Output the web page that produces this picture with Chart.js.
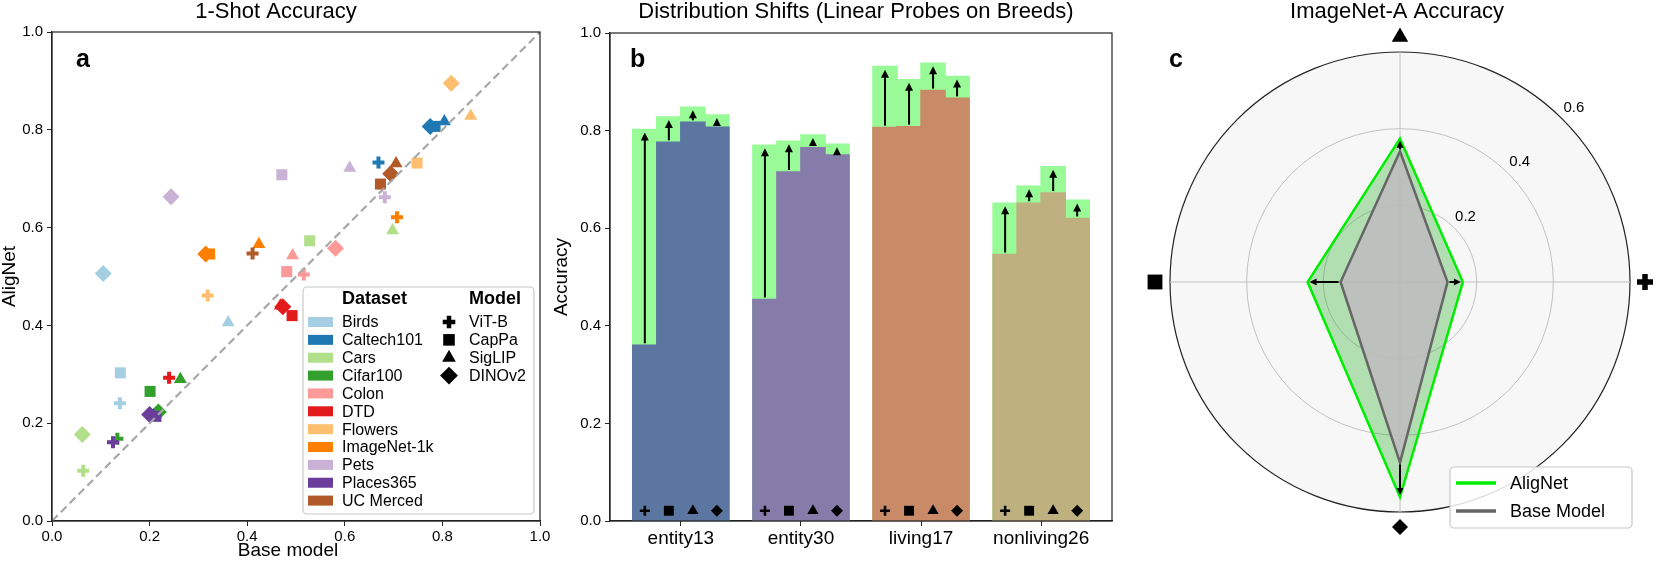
<!DOCTYPE html>
<html lang="en">
<head>
    <meta charset="UTF-8">
    <title>AligNet - Accuracy overview</title>
    <script src="https://cdn.jsdelivr.net/npm/chart.js"></script>
    <style>
        body {
            margin: 0;
            background: #fff;
        }

        .figure {
            position: relative;
            width: 1660px;
            height: 563px;
            overflow: hidden;
        }

        .panel {
            position: absolute;
            top: 0;
            height: 563px;
        }

        #shotPanel { left: 0; width: 560px; }
        #shiftPanel { left: 548px; width: 572px; }
        #radarPanel { left: 1130px; width: 530px; }
    </style>
</head>
<body>
    <div class="figure">
        <div class="panel" id="shotPanel"><canvas id="shotChart"></canvas></div>
        <div class="panel" id="shiftPanel"><canvas id="shiftChart"></canvas></div>
        <div class="panel" id="radarPanel"><canvas id="radarChart"></canvas></div>
    </div>

    <script>
        // ---- data ----
        const modelNames = ['ViT-B', 'CapPa', 'SigLIP', 'DINOv2'];
        const datasetNames = ['Birds', 'Caltech101', 'Cars', 'Cifar100', 'Colon', 'DTD',
            'Flowers', 'ImageNet-1k', 'Pets', 'Places365', 'UC Merced'];

        // 1-shot accuracy, one row per dataset, columns follow modelNames
        const baseShot = [
            [0.139, 0.140, 0.361, 0.105],
            [0.669, 0.785, 0.804, 0.775],
            [0.064, 0.528, 0.698, 0.062],
            [0.134, 0.201, 0.263, 0.218],
            [0.516, 0.481, 0.493, 0.581],
            [0.240, 0.492, 0.468, 0.473],
            [0.319, 0.748, 0.858, 0.818],
            [0.707, 0.323, 0.424, 0.315],
            [0.682, 0.471, 0.610, 0.244],
            [0.125, 0.213, 0.208, 0.200],
            [0.411, 0.673, 0.705, 0.694]
        ];
        const alignShot = [
            [0.241, 0.303, 0.406, 0.506],
            [0.733, 0.807, 0.817, 0.807],
            [0.103, 0.573, 0.594, 0.177],
            [0.168, 0.265, 0.290, 0.223],
            [0.504, 0.510, 0.543, 0.558],
            [0.293, 0.420, 0.440, 0.438],
            [0.461, 0.732, 0.828, 0.895],
            [0.621, 0.546, 0.566, 0.546],
            [0.662, 0.708, 0.722, 0.663],
            [0.161, 0.214, 0.216, 0.218],
            [0.547, 0.689, 0.731, 0.710]
        ];

        // breeds linear probes, one row per model, columns follow shiftNames
        const shiftNames = ['entity13', 'entity30', 'living17', 'nonliving26'];
        const baseShift = [
            [0.360, 0.454, 0.806, 0.546],
            [0.776, 0.715, 0.808, 0.651],
            [0.817, 0.765, 0.882, 0.672],
            [0.807, 0.750, 0.866, 0.620]
        ];
        const alignShift = [
            [0.802, 0.770, 0.931, 0.651],
            [0.828, 0.778, 0.904, 0.686],
            [0.848, 0.791, 0.938, 0.726],
            [0.832, 0.772, 0.911, 0.657]
        ];

        // ImageNet-A, axes clockwise from the top
        const radarAxes = ['SigLIP', 'ViT-B', 'DINOv2', 'CapPa'];
        const radarBase = [0.341, 0.124, 0.471, 0.155];
        const radarAlign = [0.374, 0.164, 0.561, 0.241];
        const radarTicks = [0.2, 0.4, 0.6];

        // ---- styles ----
        const FONT = "'Liberation Sans', Arial, sans-serif";
        Chart.defaults.font.family = FONT;
        Chart.defaults.color = '#000';

        const datasetColors = ['#a6cee3', '#1f78b4', '#b2df8a', '#33a02c', '#fb9a99', '#e31a1c',
            '#fdbf6f', '#ff7f00', '#cab2d6', '#6a3d9a', '#b15928'];
        const shiftColors = ['#5b76a1', '#857ca9', '#c98a68', '#bfb17f'];
        const gainGreen = '#98fb98';
        const markerStyle = { 'ViT-B': 'cross', 'CapPa': 'rect', 'SigLIP': 'triangle', 'DINOv2': 'rectRot' };
        const shotRadius = { 'ViT-B': 6, 'CapPa': 7.8, 'SigLIP': 7.5, 'DINOv2': 8.5 };
        const spineColor = '#222';

        function marker(ctx, style, x, y, radius, color, crossWidth) {
            ctx.save();
            ctx.fillStyle = color;
            ctx.strokeStyle = color;
            ctx.lineWidth = crossWidth;
            Chart.helpers.drawPoint(ctx, {
                pointStyle: style, radius: radius, rotation: 0,
                borderWidth: style === 'cross' ? crossWidth : 0
            }, x, y);
            ctx.restore();
        }

        function arrow(ctx, x0, y0, x1, y1, head, halfWidth) {
            const ang = Math.atan2(y1 - y0, x1 - x0);
            const len = Math.hypot(x1 - x0, y1 - y0);
            ctx.save();
            ctx.translate(x0, y0);
            ctx.rotate(ang);
            ctx.beginPath();
            ctx.moveTo(0, 0);
            ctx.lineTo(Math.max(0, len - head + 1), 0);
            ctx.stroke();
            ctx.beginPath();
            ctx.moveTo(len, 0);
            ctx.lineTo(len - head, -halfWidth);
            ctx.lineTo(len - head, halfWidth);
            ctx.closePath();
            ctx.fill();
            ctx.restore();
        }

        function frameAndTitle(chart, title, titleX, letter, letterX) {
            const { ctx, chartArea: a } = chart;
            ctx.save();
            ctx.strokeStyle = spineColor;
            ctx.lineWidth = 1.2;
            ctx.strokeRect(a.left, a.top, a.right - a.left, a.bottom - a.top);
            ctx.fillStyle = '#000';
            ctx.textAlign = 'center';
            ctx.textBaseline = 'alphabetic';
            ctx.font = '22px ' + FONT;
            ctx.fillText(title, titleX, 18);
            ctx.textAlign = 'left';
            ctx.font = 'bold 25px ' + FONT;
            ctx.fillText(letter, letterX, 67);
            ctx.restore();
        }

        function axisTitles(chart, xText, xCenter, yText, yX) {
            const { ctx, chartArea: a } = chart;
            ctx.save();
            ctx.fillStyle = '#000';
            ctx.font = '19px ' + FONT;
            ctx.textAlign = 'center';
            ctx.textBaseline = 'middle';
            if (xText) ctx.fillText(xText, xCenter, 551);
            if (yText) {
                ctx.translate(yX, (a.top + a.bottom) / 2);
                ctx.rotate(-Math.PI / 2);
                ctx.fillText(yText, 0, 0);
            }
            ctx.restore();
        }

        function numTick(v) { return Number(v).toFixed(1); }

        // ---- a: 1-shot accuracy ----
        const shotDecor = {
            id: 'shotDecor',
            afterDraw(chart) {
                frameAndTitle(chart, '1-Shot Accuracy', 276, 'a', 76);
                axisTitles(chart, 'Base model', 288, 'AligNet', 9.5);
                const { ctx, chartArea: a } = chart;
                const box = { w: 231, h: 227 };
                box.x = a.right - 6 - box.w;
                box.y = a.bottom - 7 - box.h;
                ctx.save();
                ctx.fillStyle = 'rgba(255,255,255,0.85)';
                ctx.strokeStyle = '#c8c8c8';
                ctx.lineWidth = 1.2;
                ctx.beginPath();
                ctx.roundRect(box.x, box.y, box.w, box.h, 4);
                ctx.fill();
                ctx.stroke();

                ctx.fillStyle = '#000';
                ctx.textBaseline = 'middle';
                ctx.font = 'bold 18px ' + FONT;
                ctx.fillText('Dataset', box.x + 39, box.y + 12);
                ctx.fillText('Model', box.x + 166, box.y + 12);

                ctx.font = '16px ' + FONT;
                const rowY = j => box.y + 35 + j * 17.86;
                datasetNames.forEach((name, j) => {
                    ctx.fillStyle = datasetColors[j];
                    ctx.fillRect(box.x + 5, rowY(j) - 5, 25, 10);
                    ctx.fillStyle = '#000';
                    ctx.fillText(name, box.x + 39, rowY(j) + 1);
                });
                modelNames.forEach((m, j) => {
                    marker(ctx, markerStyle[m], box.x + 146, rowY(j), shotRadius[m] * 1.05, '#000', 4.5);
                    ctx.fillStyle = '#000';
                    ctx.fillText(m, box.x + 166, rowY(j) + 1);
                });
                ctx.restore();
            }
        };

        new Chart(document.getElementById('shotChart'), {
            type: 'scatter',
            data: {
                datasets: [
                    {
                        type: 'line',
                        label: 'parity',
                        data: [{ x: 0, y: 0 }, { x: 1, y: 1 }],
                        borderColor: '#a8a8a8',
                        borderWidth: 2.2,
                        borderDash: [8, 4.5],
                        pointRadius: 0,
                        order: -100
                    },
                    ...datasetNames.map((name, d) => ({
                        label: name,
                        data: modelNames.map((m, k) => ({ x: baseShot[d][k], y: alignShot[d][k] })),
                        pointStyle: modelNames.map(m => markerStyle[m]),
                        pointRadius: modelNames.map(m => shotRadius[m]),
                        pointHoverRadius: modelNames.map(m => shotRadius[m]),
                        pointBorderWidth: modelNames.map(m => (m === 'ViT-B' ? 4 : 0)),
                        backgroundColor: datasetColors[d],
                        borderColor: datasetColors[d],
                        order: -d
                    }))
                ]
            },
            options: {
                responsive: true,
                maintainAspectRatio: false,
                animation: false,
                layout: { padding: { left: 0, right: 20, top: 32, bottom: 0 } },
                plugins: { legend: { display: false }, tooltip: { enabled: false } },
                scales: {
                    x: {
                        type: 'linear', min: 0, max: 1,
                        ticks: { stepSize: 0.2, font: { size: 15 }, padding: 2, callback: numTick },
                        grid: { drawOnChartArea: false, tickLength: 5, color: spineColor },
                        border: { color: spineColor, width: 1.2 },
                        afterFit: s => { s.height = 42; }
                    },
                    y: {
                        type: 'linear', min: 0, max: 1,
                        ticks: { stepSize: 0.2, font: { size: 15 }, padding: 4, callback: numTick },
                        grid: { drawOnChartArea: false, tickLength: 5, color: spineColor },
                        border: { color: spineColor, width: 1.2 },
                        afterFit: s => { s.width = 52; }
                    }
                }
            },
            plugins: [shotDecor]
        });

        // ---- b: distribution shifts ----
        const shiftSets = [];
        modelNames.forEach((m, k) => {
            shiftSets.push({
                label: m + ' AligNet',
                data: shiftNames.map((s, i) => ({ x: i, y: alignShift[k][i] })),
                backgroundColor: gainGreen,
                stack: m,
                order: 1
            });
            shiftSets.push({
                label: m,
                data: shiftNames.map((s, i) => ({ x: i, y: baseShift[k][i] })),
                backgroundColor: shiftColors,
                stack: m,
                order: 0
            });
        });

        const shiftDecor = {
            id: 'shiftDecor',
            afterDatasetsDraw(chart) {
                const { ctx } = chart;
                const yS = chart.scales.y;
                ctx.save();
                ctx.strokeStyle = '#000';
                ctx.fillStyle = '#000';
                ctx.lineWidth = 2;
                modelNames.forEach((m, k) => {
                    const bars = chart.getDatasetMeta(2 * k + 1).data;
                    shiftNames.forEach((s, i) => {
                        const x = bars[i].x;
                        const y0 = yS.getPixelForValue(baseShift[k][i]) - 2;
                        const y1 = yS.getPixelForValue(alignShift[k][i]) + 3;
                        arrow(ctx, x, y0, x, y1, 8, 4);
                        marker(ctx, markerStyle[m], x, yS.getPixelForValue(0.021),
                            { 'ViT-B': 5, 'CapPa': 7, 'SigLIP': 6.5, 'DINOv2': 6 }[m], '#000', 2.6);
                    });
                });
                ctx.restore();
            },
            afterDraw(chart) {
                frameAndTitle(chart, 'Distribution Shifts (Linear Probes on Breeds)', 308, 'b', 82);
                axisTitles(chart, null, 0, 'Accuracy', 14);
            }
        };

        new Chart(document.getElementById('shiftChart'), {
            type: 'bar',
            data: { datasets: shiftSets },
            options: {
                responsive: true,
                maintainAspectRatio: false,
                animation: false,
                layout: { padding: { left: 0, right: 8, top: 33, bottom: 0 } },
                plugins: { legend: { display: false }, tooltip: { enabled: false } },
                datasets: { bar: { categoryPercentage: 0.8, barPercentage: 1.0, inflateAmount: 0.8 } },
                scales: {
                    x: {
                        type: 'linear', min: -0.59, max: 3.59, offset: false,
                        afterBuildTicks: s => { s.ticks = shiftNames.map((n, i) => ({ value: i })); },
                        ticks: { font: { size: 19 }, padding: 1, autoSkip: false, maxRotation: 0,
                                 callback: v => shiftNames[v] },
                        grid: { drawOnChartArea: false, tickLength: 5, color: spineColor, offset: false },
                        border: { color: spineColor, width: 1.2 },
                        afterFit: s => { s.height = 42; }
                    },
                    y: {
                        type: 'linear', min: 0, max: 1, stacked: false,
                        ticks: { stepSize: 0.2, font: { size: 15 }, padding: 4, callback: numTick },
                        grid: { drawOnChartArea: false, tickLength: 5, color: spineColor },
                        border: { color: spineColor, width: 1.2 },
                        afterFit: s => { s.width = 62; }
                    }
                }
            },
            plugins: [shiftDecor]
        });

        // ---- c: ImageNet-A radar ----
        const radarDecor = {
            id: 'radarDecor',
            afterDatasetsDraw(chart) {
                const { ctx } = chart;
                const r = chart.scales.r;
                ctx.save();
                ctx.strokeStyle = '#000';
                ctx.fillStyle = '#000';
                ctx.lineWidth = 2;
                radarAxes.forEach((m, i) => {
                    const p0 = r.getPointPositionForValue(i, radarBase[i]);
                    const p1 = r.getPointPositionForValue(i, radarAlign[i]);
                    const ang = Math.atan2(p1.y - p0.y, p1.x - p0.x);
                    arrow(ctx, p0.x + 2 * Math.cos(ang), p0.y + 2 * Math.sin(ang),
                        p1.x - 2 * Math.cos(ang), p1.y - 2 * Math.sin(ang), 7, 3.5);
                });
                ctx.restore();
            },
            afterDraw(chart) {
                const { ctx } = chart;
                const r = chart.scales.r;
                ctx.save();
                ctx.fillStyle = '#000';
                ctx.textAlign = 'center';
                ctx.textBaseline = 'middle';
                ctx.font = '15px ' + FONT;
                radarTicks.forEach(v => {
                    const d = r.getDistanceFromCenterForValue(v) + 16;
                    ctx.fillText(v.toFixed(1), r.xCenter + d * Math.SQRT1_2, r.yCenter - d * Math.SQRT1_2);
                });
                const axisMarkSize = { 'ViT-B': 8, 'CapPa': 10.5, 'SigLIP': 9.5, 'DINOv2': 8 };
                radarAxes.forEach((m, i) => {
                    const p = r.getPointPosition(i, r.drawingArea + 15);
                    marker(ctx, markerStyle[m], p.x, p.y, axisMarkSize[m], '#000', 5.5);
                });

                ctx.textBaseline = 'alphabetic';
                ctx.font = '22px ' + FONT;
                ctx.fillText('ImageNet-A Accuracy', r.xCenter - 3, 18);
                ctx.textAlign = 'left';
                ctx.font = 'bold 25px ' + FONT;
                ctx.fillText('c', 39, 67);

                // legend
                const box = { x: 320, y: 467, w: 182, h: 61 };
                ctx.fillStyle = 'rgba(255,255,255,0.85)';
                ctx.strokeStyle = '#c8c8c8';
                ctx.lineWidth = 1.2;
                ctx.beginPath();
                ctx.roundRect(box.x, box.y, box.w, box.h, 4);
                ctx.fill();
                ctx.stroke();
                ctx.font = '18px ' + FONT;
                ctx.textBaseline = 'middle';
                chart.data.datasets.forEach((ds, j) => {
                    const y = box.y + 16 + j * 28;
                    ctx.strokeStyle = ds.borderColor;
                    ctx.lineWidth = 3.5;
                    ctx.beginPath();
                    ctx.moveTo(box.x + 6, y);
                    ctx.lineTo(box.x + 46, y);
                    ctx.stroke();
                    ctx.fillStyle = '#000';
                    ctx.fillText(ds.label, box.x + 60, y + 1);
                });
                ctx.restore();
            }
        };

        new Chart(document.getElementById('radarChart'), {
            type: 'radar',
            data: {
                labels: radarAxes,
                datasets: [
                    {
                        label: 'AligNet',
                        data: radarAlign,
                        borderColor: '#00ee00',
                        backgroundColor: 'rgba(20,170,20,0.3)',
                        borderWidth: 2.5,
                        pointRadius: 0,
                        fill: true,
                        order: 1
                    },
                    {
                        label: 'Base Model',
                        data: radarBase,
                        borderColor: '#666666',
                        backgroundColor: 'rgba(190,190,190,0.9)',
                        borderWidth: 2.5,
                        pointRadius: 0,
                        fill: true,
                        order: 0
                    }
                ]
            },
            options: {
                responsive: true,
                maintainAspectRatio: false,
                animation: false,
                layout: { padding: { left: 40, right: 30, top: 52, bottom: 51 } },
                plugins: { legend: { display: false }, tooltip: { enabled: false } },
                elements: { line: { tension: 0 } },
                scales: {
                    r: {
                        min: 0, max: 0.6,
                        backgroundColor: '#f7f7f7',
                        ticks: { stepSize: 0.2, display: false },
                        pointLabels: { display: false },
                        grid: {
                            circular: true,
                            color: c => (c.tick && c.tick.value > 0.59 ? '#222' : '#c2c2c2'),
                            lineWidth: c => (c.tick && c.tick.value > 0.59 ? 1.2 : 1)
                        },
                        angleLines: { color: '#c2c2c2', lineWidth: 1 }
                    }
                }
            },
            plugins: [radarDecor]
        });
    </script>
</body>
</html>
